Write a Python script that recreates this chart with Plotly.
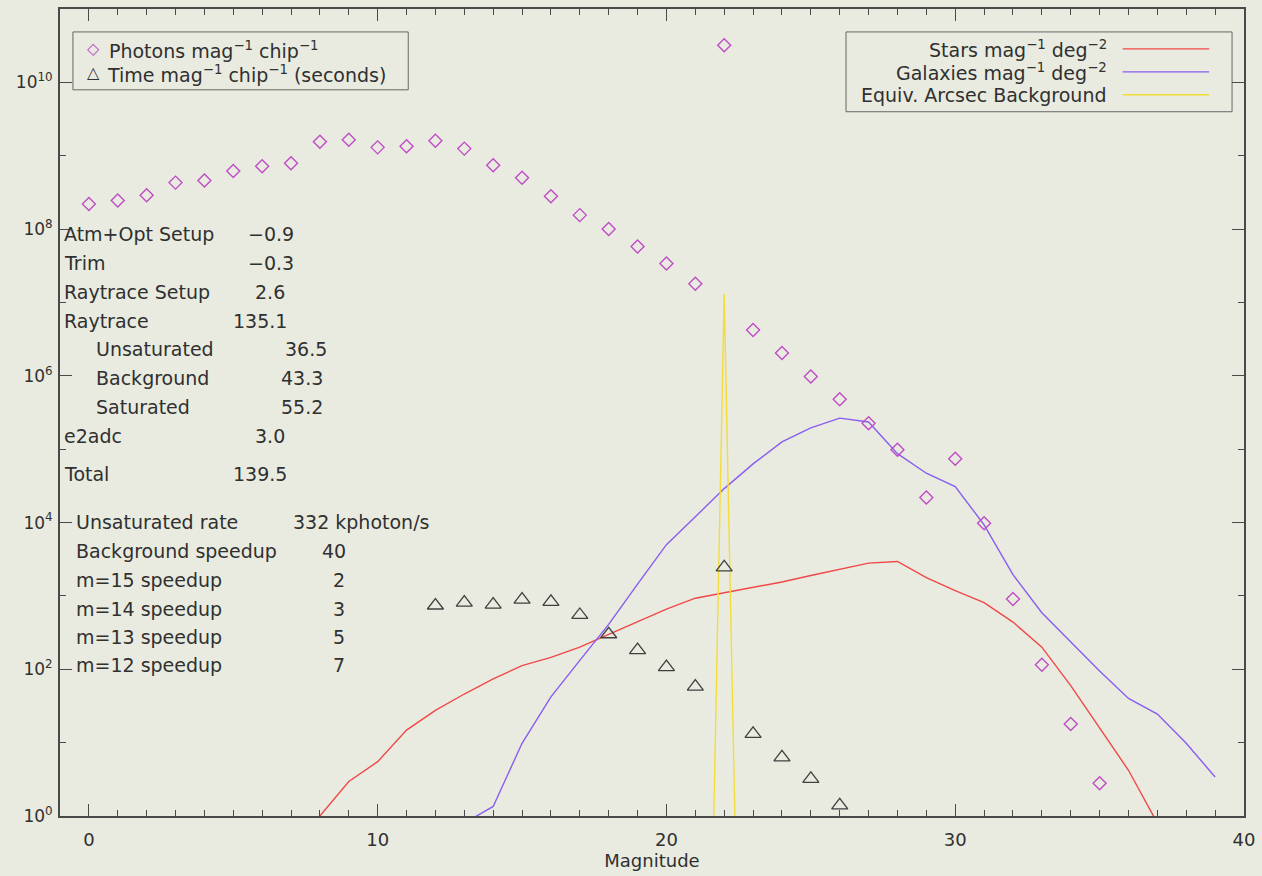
import plotly.graph_objects as go

# ---------------- data ----------------
mag_photons = list(range(0, 36))
photons = [2.2e8, 2.45e8, 2.9e8, 4.3e8, 4.6e8, 6.2e8, 7.2e8, 7.9e8,
           1.55e9, 1.65e9, 1.3e9, 1.35e9, 1.6e9, 1.25e9, 7.4e8, 5.0e8,
           2.8e8, 1.55e8, 1.0e8, 5.8e7, 3.4e7, 1.8e7, 3.2e10, 4.2e6,
           2.05e6, 9.8e5, 4.8e5, 2.25e5, 9.8e4, 2.2e4, 7.4e4, 9.8e3,
           9.1e2, 1.15e2, 18.0, 2.8]

mag_time = list(range(12, 27))
time_s = [740, 810, 760, 890, 830, 550, 300, 182, 107, 58, 2450, 13.2, 6.3, 3.2, 1.4]

mag_stars = list(range(8, 38))
stars = [1.0, 2.95, 5.5, 14.8, 27.5, 46, 74, 112, 145, 200, 300, 440, 660,
         930, 1100, 1290, 1550, 1900, 2300, 2800, 2950, 1780, 1180, 810,
         440, 200, 60, 16.2, 4.2, 0.8]

mag_gal = list(range(13, 40))
galaxies = [0.8, 1.35, 9.8, 42, 132, 410, 1450, 5000, 12000, 29000, 63000,
            126000, 195000, 265000, 235000, 87000, 47000, 31000, 9300,
            1950, 590, 235, 95, 40, 24.5, 9.8, 3.4]

mag_bkg = [21.64, 22.0, 22.37]
bkg = [1.0, 1.3e7, 1.0]

table_labels = ["Atm+Opt Setup", "Trim", "Raytrace Setup", "Raytrace",
                "Unsaturated", "Background", "Saturated", "e2adc", "Total"]
table_values = ["\u22120.9", "\u22120.3", "2.6", "135.1", "36.5", "43.3",
                "55.2", "3.0", "139.5"]
rate_labels = ["Unsaturated rate", "Background speedup", "m=15 speedup",
               "m=14 speedup", "m=13 speedup", "m=12 speedup"]
rate_values = ["332 kphoton/s", "40", "2", "3", "5", "7"]

ytick_vals = [1, 1e2, 1e4, 1e6, 1e8, 1e10]
ytick_text = ["10<sup>0</sup>", "10<sup>2</sup>", "10<sup>4</sup>",
              "10<sup>6</sup>", "10<sup>8</sup>", "10<sup>10</sup>"]
yminor_vals = [1e1, 1e3, 1e5, 1e7, 1e9, 1e11]

# ---------------- style ----------------
BG = "#e9ebe0"
AX = "#4a4a4a"
TXT = "#303030"
FONT = "DejaVu Sans"
FS = 19
C_PH = "#c04cc6"
C_TI = "#404040"
C_ST = "#f04848"
C_GA = "#8a5cf0"
C_BK = "#f4dc3a"

W, H = 1262, 876
L, R, T, B = 60, 12, 7, 60
pw, ph = W - L - R, H - T - B


def px(xp):
    return (xp - L) / pw


def py(yp):
    return 1 - (yp - T) / ph


fig = go.Figure()

fig.add_trace(go.Scatter(x=mag_stars, y=stars, mode="lines",
                         line=dict(color=C_ST, width=1.4), showlegend=False))
fig.add_trace(go.Scatter(x=mag_gal, y=galaxies, mode="lines",
                         line=dict(color=C_GA, width=1.4), showlegend=False))
fig.add_trace(go.Scatter(x=mag_bkg, y=bkg, mode="lines",
                         line=dict(color=C_BK, width=1.4), showlegend=False))
fig.add_trace(go.Scatter(x=mag_photons, y=photons, mode="markers",
                         marker=dict(symbol="diamond-open", size=10, color=C_PH,
                                     line=dict(width=1.4, color=C_PH)),
                         cliponaxis=True, showlegend=False))
fig.add_trace(go.Scatter(x=mag_time, y=time_s, mode="markers",
                         marker=dict(symbol="triangle-up-open", size=14, color=C_TI,
                                     line=dict(width=1.3, color=C_TI)),
                         cliponaxis=True, showlegend=False))

annotations = []
shapes = []


def txt(x, y, s, anchor="left", size=FS):
    return dict(x=px(x), y=py(y), xref="paper", yref="paper", text=s,
                showarrow=False, xanchor=anchor, yanchor="middle",
                borderpad=0, font=dict(size=size, color=TXT, family=FONT))


# left info table
row_y = [233, 262, 291, 320, 348, 377, 406, 435, 473]
label_x = [63, 63, 63, 63, 95, 95, 95, 63, 63]
value_x = [248, 248, 255, 233, 285, 281, 281, 255, 233]
for lab, val, yy, lx, vx in zip(table_labels, table_values, row_y, label_x, value_x):
    annotations.append(txt(lx, yy, lab))
    annotations.append(txt(vx, yy, val))

rate_y = [521, 550, 579, 608, 637, 665]
rate_vx = [293, 322, 333, 333, 333, 333]
for lab, val, yy, vx in zip(rate_labels, rate_values, rate_y, rate_vx):
    annotations.append(txt(75, yy, lab))
    annotations.append(txt(vx, yy, val))

# top-left legend box
shapes.append(dict(type="rect", xref="paper", yref="paper",
                   x0=px(73), x1=px(410), y0=py(30), y1=py(88),
                   line=dict(color="#666666", width=1), fillcolor=BG, layer="below"))
annotations.append(txt(86, 47, "<span style='color:%s'>\u25c7</span>" % C_PH, size=16))
annotations.append(txt(108, 48, "Photons mag<sup>\u22121</sup> chip<sup>\u22121</sup>"))
annotations.append(txt(86, 71, "\u25b3", size=16))
annotations.append(txt(106, 72, "Time mag<sup>\u22121</sup> chip<sup>\u22121</sup> (seconds)"))

# top-right legend box
shapes.append(dict(type="rect", xref="paper", yref="paper",
                   x0=px(850), x1=px(1238), y0=py(30), y1=py(110),
                   line=dict(color="#666666", width=1), fillcolor=BG, layer="below"))
rl_text = ["Stars mag<sup>\u22121</sup> deg<sup>\u22122</sup>",
           "Galaxies mag<sup>\u22121</sup> deg<sup>\u22122</sup>",
           "Equiv. Arcsec Background"]
rl_col = [C_ST, C_GA, C_BK]
rl_y = [47, 70, 93]
for t, c, yy in zip(rl_text, rl_col, rl_y):
    annotations.append(txt(1113, yy, t, anchor="right"))
    shapes.append(dict(type="line", xref="paper", yref="paper",
                       x0=px(1128), x1=px(1215), y0=py(yy), y1=py(yy),
                       line=dict(color=c, width=1.4)))

fig.update_layout(
    width=W, height=H,
    margin=dict(l=L, r=R, t=T, b=B),
    paper_bgcolor=BG, plot_bgcolor=BG,
    font=dict(family=FONT, size=FS, color=TXT),
    annotations=annotations, shapes=shapes,
    showlegend=False,
)

fig.update_xaxes(
    range=[-1, 40], tickvals=[0, 10, 20, 30, 40], ticks="inside", ticklen=12,
    tickwidth=1.3, tickcolor=AX, showline=True, linecolor=AX, linewidth=2,
    mirror="ticks", showgrid=False, zeroline=False, ticklabelstandoff=6,
    minor=dict(dtick=1, ticks="inside", ticklen=6, tickcolor=AX, tickwidth=1.2, showgrid=False),
    tickfont=dict(size=18, color=TXT, family=FONT),
    title=dict(text="Magnitude", font=dict(size=18, color=TXT, family=FONT), standoff=2),
)
fig.update_yaxes(
    type="log", range=[0, 11], tickvals=ytick_vals, ticktext=ytick_text,
    ticks="inside", ticklen=12, tickwidth=1.3, tickcolor=AX,
    showline=True, linecolor=AX, linewidth=2, mirror="ticks",
    showgrid=False, zeroline=False, ticklabelstandoff=2,
    minor=dict(tickvals=yminor_vals, ticks="inside", ticklen=6, tickcolor=AX,
               tickwidth=1.2, showgrid=False),
    tickfont=dict(size=17, color=TXT, family=FONT),
)

fig.write_html(
    "out.html",
    config={"displayModeBar": False},
    post_script="document.body.style.margin='0';document.body.style.padding='0';"
                "document.body.style.background='%s';document.body.style.overflow='hidden';" % BG,
)
